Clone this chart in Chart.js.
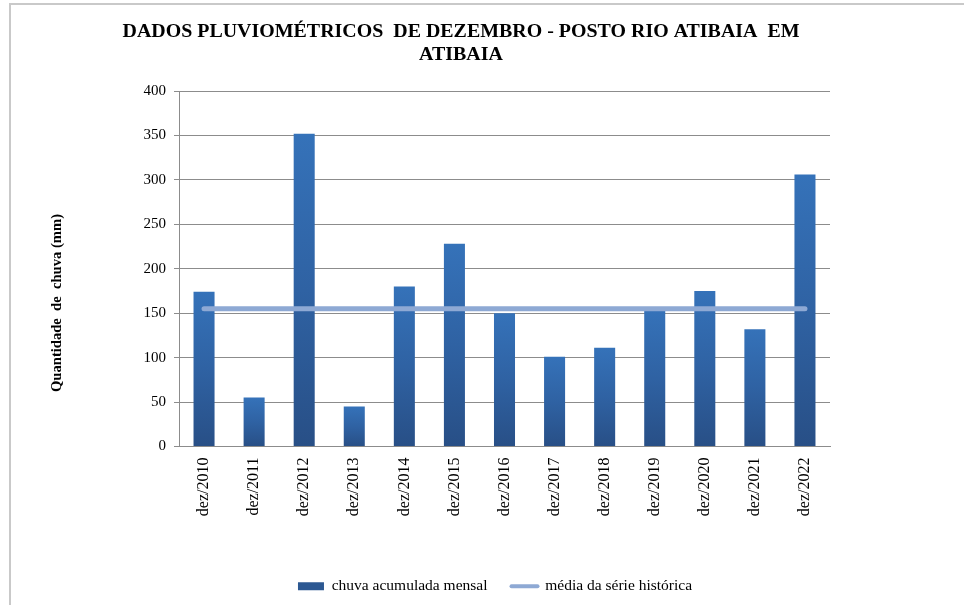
<!DOCTYPE html>
<html>
<head>
<meta charset="utf-8">
<script src="https://cdn.jsdelivr.net/npm/chart.js@4/dist/chart.umd.min.js"></script>
<style>
  html, body { margin: 0; padding: 0; background: #fff; overflow: hidden; }
  #wrap { position: relative; width: 964px; height: 605px; }
  #frame { position: absolute; left: 9px; top: 3px; width: 1000px; height: 700px;
           border: 2px solid #c9c9c9; box-sizing: border-box; pointer-events: none; }
  canvas { position: absolute; left: 0; top: 0; }
</style>
</head>
<body>
<div id="wrap">
  <canvas id="grafico" width="964" height="605"></canvas>
  <div id="frame"></div>
</div>
<script>
// Dados
const meses = ['dez/2010', 'dez/2011', 'dez/2012', 'dez/2013', 'dez/2014', 'dez/2015', 'dez/2016',
               'dez/2017', 'dez/2018', 'dez/2019', 'dez/2020', 'dez/2021', 'dez/2022'];
const chuvaMensal = [174, 55, 352, 45, 180, 228, 150, 101, 111, 153, 175, 132, 306];
const mediaSerie = [155, 155, 155, 155, 155, 155, 155, 155, 155, 155, 155, 155, 155];
const ticksY = [0, 50, 100, 150, 200, 250, 300, 350, 400];

const tituloLinhas = ['DADOS PLUVIOMÉTRICOS  DE DEZEMBRO - POSTO RIO ATIBAIA  EM', 'ATIBAIA'];
const tituloY = 'Quantidade  de  chuva (mm)';
const serif = "'Liberation Serif', 'Times New Roman', serif";

Chart.defaults.font.family = serif;
Chart.defaults.color = '#000';

// gradiente de cada barra: mais claro em cima, mais escuro embaixo
function corBarra(ctx) {
    const chart = ctx.chart;
    if (!chart.chartArea || ctx.raw == null) return '#2f62a3';
    const y = chart.scales.y;
    const topo = y.getPixelForValue(ctx.raw);
    const base = y.getPixelForValue(0);
    const g = chart.ctx.createLinearGradient(0, topo, 0, base);
    g.addColorStop(0, '#3572b9');
    g.addColorStop(0.5, '#2f62a3');
    g.addColorStop(1, '#284f86');
    return g;
}

// títulos desenhados à mão (posições como no original)
const tituloPlugin = {
    id: 'titulo',
    afterDraw(chart) {
        const c = chart.ctx;
        c.save();
        c.fillStyle = '#000';
        c.font = 'bold 19px ' + serif;
        c.textAlign = 'center';
        c.textBaseline = 'alphabetic';
        const w = c.measureText(tituloLinhas[0]).width;
        const sx = 677 / w;
        c.translate(461, 37);
        c.scale(sx, 1);
        c.fillText(tituloLinhas[0], 0, 0);
        c.fillText(tituloLinhas[1], 0, 23);
        c.restore();

        c.save();
        c.fillStyle = '#000';
        c.font = 'bold 14.6px ' + serif;
        c.textAlign = 'center';
        c.textBaseline = 'middle';
        c.translate(57, 303);
        c.rotate(-Math.PI / 2);
        c.fillText(tituloY, 0, 0);
        c.restore();
    }
};

const ctxGrafico = document.getElementById('grafico').getContext('2d');
const grafico = new Chart(ctxGrafico, {
    data: {
        labels: meses,
        datasets: [{
            type: 'bar',
            label: 'chuva acumulada mensal',
            data: chuvaMensal,
            backgroundColor: corBarra,
            barPercentage: 0.42,
            categoryPercentage: 1,
            order: 1
        }, {
            type: 'line',
            label: 'média da série histórica',
            data: mediaSerie,
            borderColor: '#8ea9d4',
            backgroundColor: '#8ea9d4',
            borderWidth: 5,
            borderCapStyle: 'round',
            pointRadius: 0,
            tension: 0,
            order: 0
        }]
    },
    options: {
        responsive: false,
        animation: false,
        layout: { padding: { left: 26, right: 0, top: 91, bottom: 1 } },
        plugins: {
            tooltip: { enabled: false },
            title: { display: false },
            legend: {
                position: 'bottom',
                labels: {
                    font: { size: 15.5 },
                    color: '#111',
                    padding: 24,
                    usePointStyle: true,
                    pointStyleWidth: 26,
                    boxWidth: 26,
                    boxHeight: 8,
                    generateLabels(chart) {
                        return [
                            { text: 'chuva acumulada mensal', datasetIndex: 0, pointStyle: 'rect',
                              fillStyle: '#2c5892', strokeStyle: '#2c5892', lineWidth: 0, hidden: false },
                            { text: 'média da série histórica', datasetIndex: 1, pointStyle: 'line',
                              fillStyle: '#8ea9d4', strokeStyle: '#8ea9d4', lineWidth: 4,
                              lineCap: 'round', hidden: false }
                        ];
                    }
                }
            }
        },
        scales: {
            x: {
                grid: { display: false },
                border: { display: true, color: '#8c8c8c', width: 1 },
                ticks: { font: { size: 16 }, color: '#000', minRotation: 90, maxRotation: 90,
                         padding: 3, autoSkip: false },
                afterFit(scale) { scale.height = 108; }
            },
            y: {
                min: 0,
                max: 400,
                afterBuildTicks(scale) { scale.ticks = ticksY.map(v => ({ value: v })); },
                grid: { color: '#8c8c8c', lineWidth: 1, tickLength: 5, drawTicks: true },
                border: { display: true, color: '#8c8c8c', width: 1 },
                ticks: { font: { size: 15 }, color: '#000', padding: 8 },
                afterFit(scale) { scale.width = 153; }
            },
            // eixo vazio só para reservar o espaço à direita
            espaco: {
                type: 'linear',
                position: 'right',
                display: true,
                grid: { display: false },
                border: { display: false },
                ticks: { display: false },
                afterFit(scale) { scale.width = 134; }
            }
        }
    },
    plugins: [tituloPlugin]
});
</script>
</body>
</html>
